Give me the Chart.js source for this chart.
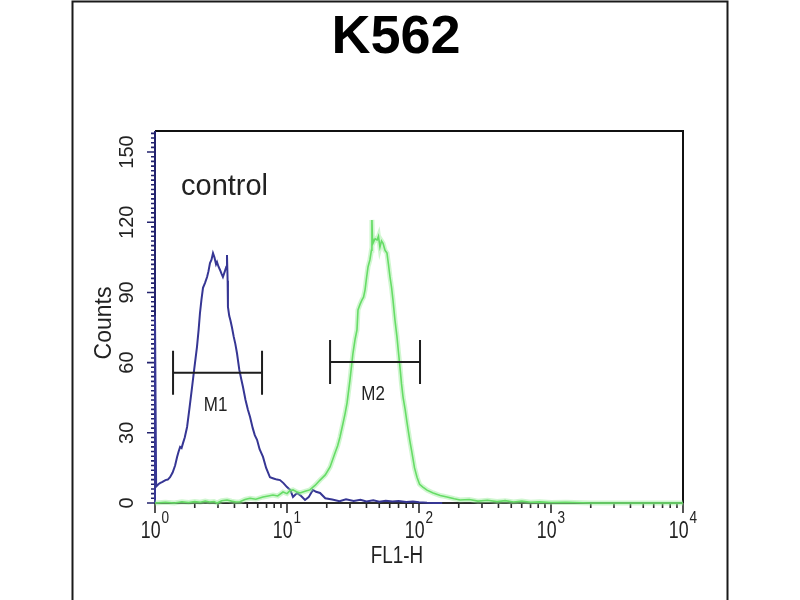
<!DOCTYPE html>
<html>
<head>
<meta charset="utf-8">
<style>
html,body{margin:0;padding:0;background:#fff;}
#c{display:block;}
</style>
<script src="https://cdn.jsdelivr.net/npm/chart.js@4.4.0/dist/chart.umd.min.js"></script>
</head>
<body>
<canvas id="c" width="800" height="600"></canvas>
<script>
// ---- data ----
const chartTitle = 'K562';
const xAxisTitle = 'FL1-H';
const yAxisTitle = 'Counts';
const sampleLabel = 'control';
const yTicks = [0, 30, 60, 90, 120, 150];
const xDecades = [1, 10, 100, 1000, 10000];
const xExponents = ['0', '1', '2', '3', '4'];

// control (blue) histogram: [FL1-H, counts]
const controlCounts = [
  [1.00,0],[1.00,80],[1.02,7],[1.06,8],[1.09,8.5],[1.14,9],[1.20,9.8],[1.25,10],[1.30,11],[1.36,13],[1.42,16],
  [1.47,19.7],[1.51,22],[1.55,24],[1.59,23.5],[1.63,25.6],[1.68,28],[1.75,32.5],[1.82,40],[1.91,49.6],[1.98,57],
  [2.08,66.7],[2.14,74],[2.19,81],[2.25,87],[2.31,92],[2.39,94],[2.48,96.6],[2.54,99],[2.61,102.6],[2.68,104],
  [2.75,106.8],[2.82,105],[2.90,102],[2.95,103],[3.03,101],[3.11,99.6],[3.19,98],[3.27,96.6],[3.38,99],[3.47,101],
  [3.51,106],[3.55,95],[3.57,83.8],[3.65,80],[3.73,78],[3.83,75],[3.95,71],[4.06,68],[4.18,64],[4.35,57],
  [4.50,53],[4.64,49.6],[4.85,44],[5.05,40],[5.25,36.8],[5.50,32],[5.70,29],[5.93,27],[6.20,23],[6.58,19.7],
  [6.95,15],[7.43,11],[7.90,10.5],[8.40,10],[8.85,9.8],[9.40,8.5],[10.0,6.8],[10.6,5.5],[11.1,2.6],[11.9,4.3],
  [12.8,3],[13.7,1.3],[14.6,2.5],[15.7,5.6],[16.6,4.8],[17.8,4.3],[19.5,2],[22,1.5],[25,0.8],[28,1.6],
  [32,0.9],[36,1.4],[40,0.7],[45,1.2],[50,0.5],[56,1.0],[63,0.6],[70,0.9],[80,0.4],[90,0.6],
  [100,0.3],[115,0.1],[130,0],[150,0]
];

// stained sample (green) histogram: [FL1-H, counts]
const sampleCounts = [
  [1.0,0],[1.2,0.3],[1.4,0],[1.6,0.5],[1.8,0.2],[2.0,0.6],[2.2,0.3],[2.4,0.8],[2.6,0.4],[2.8,0.6],
  [2.95,0],[3.2,1.0],[3.51,1.3],[3.8,0.8],[4.1,0.4],[4.4,0.5],[4.8,1.5],[5.25,2],[5.8,1.6],[6.58,2.6],
  [7.2,3.0],[7.83,3.4],[8.5,3.0],[9.33,4.7],[10.0,4.0],[10.5,5.2],[11.1,5.6],[11.8,4.8],[12.55,4.3],[13.7,5.0],
  [14.9,5.6],[16.3,7.5],[17.8,9.8],[19.5,12],[21.2,15.4],[23.1,21.4],[24.2,24.5],[25.2,28.2],[26.6,34.2],[27.5,38],
  [28.5,42.7],[30.0,52.6],[31.6,64],[32.8,70],[33.9,74],[34.5,82.5],[35.8,85],[37.0,86.8],[38.0,88],[39.0,91],
  [40.0,96],[41.1,100.9],[42.5,104],[43.6,108],[44.0,121],[44.4,113],[44.8,111],[46.5,113],[48.1,112.4],[49.3,114],
  [50.6,109.4],[52.0,112],[53.4,111],[55.3,108],[57.2,106.8],[58.7,102],[60.3,96.6],[62.0,92],[63.5,86.8],[65.8,78],
  [68.1,71],[70.0,64],[71.8,58],[73.7,51],[75.7,45.3],[78.5,40],[81.2,34.2],[85,27],[88.5,21.4],[92.5,15],
  [96.6,11],[101,8],[107,6.8],[115,5.5],[128,4.3],[145,3.2],[163,2.6],[185,1.8],[205,1.3],[240,1.5],
  [280,0.8],[330,1.2],[390,0.6],[450,1.0],[520,0.4],[600,0.8],[700,0.3],[820,0.5],[1000,0.2],[1300,0.3],
  [2000,0],[4000,0],[10000,0]
];

// gate markers
const markerNames = ['M1', 'M2'];
const markerStart = [1.37, 21.2];
const markerEnd = [6.47, 101.8];
const markerLevel = [55.7, 60.3];

// ---- drawing ----
const toXY = arr => arr.map(p => ({x: p[0], y: p[1]}));

function minorTicksLog(min, max) {
  const out = [];
  for (let d = min; d < max; d *= 10) {
    for (let k = 2; k <= 9; k++) out.push(d * k);
  }
  return out;
}

const FONT = '"Liberation Sans", Arial, sans-serif';

const decorPlugin = {
  id: 'decor',
  beforeDatasetsDraw(chart) {
    const ctx = chart.ctx;
    const a = chart.chartArea;
    const xs = chart.scales.x, ys = chart.scales.y;
    ctx.save();
    // outer figure frame
    ctx.strokeStyle = '#1a1a1a';
    ctx.lineWidth = 2;
    ctx.beginPath();
    ctx.moveTo(72.5, 600); ctx.lineTo(72.5, 1.5); ctx.lineTo(727.5, 1.5); ctx.lineTo(727.5, 600);
    ctx.stroke();

    // plot box top/right
    ctx.strokeStyle = '#111';
    ctx.lineWidth = 2;
    ctx.beginPath();
    ctx.moveTo(a.left, a.top); ctx.lineTo(a.right, a.top); ctx.lineTo(a.right, a.bottom);
    ctx.stroke();
    // bottom axis
    ctx.strokeStyle = '#2a2a2a';
    ctx.beginPath();
    ctx.moveTo(a.left, a.bottom); ctx.lineTo(a.right, a.bottom);
    ctx.stroke();

    // y axis (navy) with ticks
    ctx.strokeStyle = '#23236e';
    ctx.lineWidth = 2;
    ctx.beginPath();
    ctx.moveTo(a.left, a.top); ctx.lineTo(a.left, a.bottom);
    ctx.stroke();
    ctx.lineWidth = 1.6;
    ctx.beginPath();
    for (let v = 0; v <= ys.max; v += 2) {
      const py = ys.getPixelForValue(v);
      const major = yTicks.includes(v);
      ctx.moveTo(a.left, py);
      ctx.lineTo(a.left - (major ? 8 : 4), py);
    }
    ctx.stroke();

    // y tick labels (rotated)
    ctx.fillStyle = '#222';
    ctx.font = '20px ' + FONT;
    ctx.textAlign = 'center';
    ctx.textBaseline = 'middle';
    yTicks.forEach(v => {
      const py = ys.getPixelForValue(v);
      ctx.save();
      ctx.translate(127, py);
      ctx.rotate(-Math.PI / 2);
      ctx.fillText(String(v), 0, 0);
      ctx.restore();
    });

    // x ticks
    ctx.strokeStyle = '#2a2a2a';
    ctx.lineWidth = 1.6;
    ctx.beginPath();
    xDecades.forEach(v => {
      const px = xs.getPixelForValue(v);
      ctx.moveTo(px, a.bottom); ctx.lineTo(px, a.bottom + 10);
    });
    minorTicksLog(xDecades[0], xDecades[xDecades.length - 1]).forEach(v => {
      const px = xs.getPixelForValue(v);
      ctx.moveTo(px, a.bottom); ctx.lineTo(px, a.bottom + 5);
    });
    ctx.stroke();

    // x tick labels 10^n
    ctx.fillStyle = '#222';
    ctx.textBaseline = 'alphabetic';
    ctx.textAlign = 'left';
    const sxBase = 0.74, sxSup = 0.8;
    xDecades.forEach((v, i) => {
      const px = xs.getPixelForValue(v);
      ctx.font = '24px ' + FONT;
      const wBase = ctx.measureText('10').width * sxBase;
      ctx.font = '17px ' + FONT;
      const wSup = ctx.measureText(xExponents[i]).width * sxSup;
      const start = px - (wBase + wSup + 1) / 2;
      ctx.save();
      ctx.translate(start, 538);
      ctx.scale(sxBase, 1);
      ctx.font = '24px ' + FONT;
      ctx.fillText('10', 0, 0);
      ctx.restore();
      ctx.save();
      ctx.translate(start + wBase + 1, 523);
      ctx.scale(sxSup, 1);
      ctx.font = '17px ' + FONT;
      ctx.fillText(xExponents[i], 0, 0);
      ctx.restore();
    });

    // axis titles
    ctx.textAlign = 'center';
    ctx.save();
    ctx.translate(397, 563);
    ctx.scale(0.82, 1);
    ctx.font = '23px ' + FONT;
    ctx.fillText(xAxisTitle, 0, 0);
    ctx.restore();

    ctx.save();
    ctx.translate(111, 323);
    ctx.rotate(-Math.PI / 2);
    ctx.font = '23px ' + FONT;
    ctx.fillText(yAxisTitle, 0, 0);
    ctx.restore();

    // chart title
    ctx.font = 'bold 54px ' + FONT;
    ctx.fillStyle = '#000';
    ctx.fillText(chartTitle, 396, 53);

    // sample label
    ctx.textAlign = 'left';
    ctx.fillStyle = '#222';
    ctx.font = '29px ' + FONT;
    ctx.fillText(sampleLabel, 181, 195);
    ctx.restore();
  },
  afterDatasetsDraw(chart) {
    const ctx = chart.ctx;
    const xs = chart.scales.x, ys = chart.scales.y;
    ctx.save();
    ctx.strokeStyle = '#1e1e1e';
    ctx.fillStyle = '#222';
    ctx.lineWidth = 2;
    ctx.textAlign = 'center';
    ctx.textBaseline = 'middle';
    markerNames.forEach((name, i) => {
      const x1 = xs.getPixelForValue(markerStart[i]);
      const x2 = xs.getPixelForValue(markerEnd[i]);
      const py = ys.getPixelForValue(markerLevel[i]);
      ctx.beginPath();
      ctx.moveTo(x1, py); ctx.lineTo(x2, py);
      ctx.moveTo(x1, py - 22); ctx.lineTo(x1, py + 22);
      ctx.moveTo(x2, py - 22); ctx.lineTo(x2, py + 22);
      ctx.stroke();
      const xc = xs.getPixelForValue(Math.sqrt(markerStart[i] * markerEnd[i]));
      ctx.save();
      ctx.translate(xc - 2, py + 33);
      ctx.scale(0.85, 1);
      ctx.font = '20px ' + FONT;
      ctx.fillText(name, 0, 0);
      ctx.restore();
    });
    ctx.restore();
  }
};

new Chart(document.getElementById('c'), {
  type: 'scatter',
  data: {
    datasets: [
      {
        label: 'sample glow',
        data: toXY(sampleCounts),
        showLine: true,
        borderColor: 'rgba(150,235,150,0.45)',
        borderWidth: 5,
        pointRadius: 0,
        clip: false
      },
      {
        label: 'sample',
        data: toXY(sampleCounts),
        showLine: true,
        borderColor: '#3fd03f',
        borderWidth: 1.6,
        pointRadius: 0,
        clip: false
      },
      {
        label: 'control',
        data: toXY(controlCounts),
        showLine: true,
        borderColor: '#363694',
        borderWidth: 2,
        pointRadius: 0,
        clip: false
      }
    ]
  },
  options: {
    responsive: false,
    animation: false,
    devicePixelRatio: 1,
    layout: { padding: { left: 155, right: 117, top: 131, bottom: 97 } },
    plugins: { legend: { display: false }, tooltip: { enabled: false }, title: { display: false } },
    scales: {
      x: { type: 'logarithmic', min: 1, max: 10000, display: false },
      y: { type: 'linear', min: 0, max: 159, display: false }
    }
  },
  plugins: [decorPlugin]
});
</script>
</body>
</html>
